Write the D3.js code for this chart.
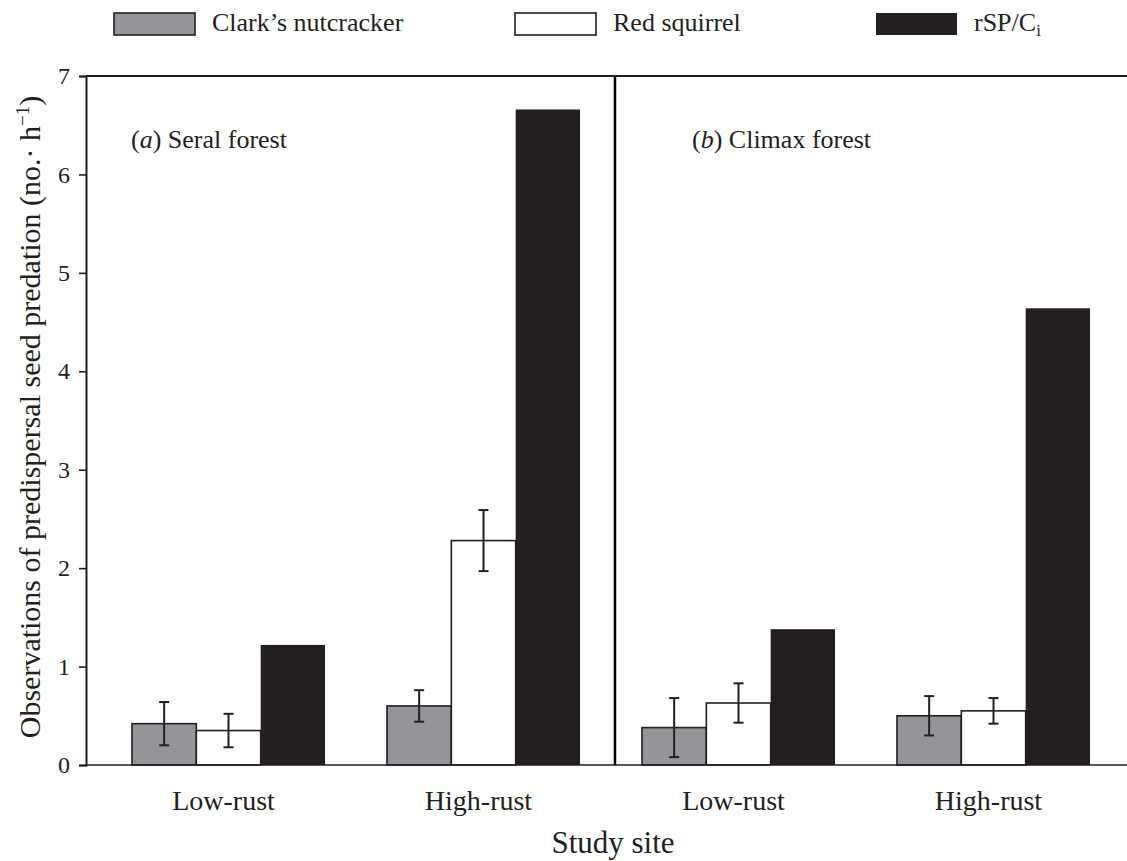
<!DOCTYPE html>
<html>
<head>
<meta charset="utf-8">
<script src="https://cdn.jsdelivr.net/npm/d3@7/dist/d3.min.js"></script>
<style>
  html, body { margin: 0; padding: 0; background: #fff; }
  svg { display: block; }
  text { font-family: "Liberation Serif", "DejaVu Serif", serif; fill: #231f20; }
</style>
</head>
<body>
<svg id="chart" width="1127" height="861"></svg>
<script>
// ---- data ----
const sites = ["Seral Low-rust", "Seral High-rust", "Climax Low-rust", "Climax High-rust"];
const siteLabels = ["Low-rust", "High-rust", "Low-rust", "High-rust"];
const seriesNames = ["Clark\u2019s nutcracker", "Red squirrel", "rSP/Ci"];
const nutcracker = [0.42, 0.60, 0.38, 0.50];
const nutcrackerErr = [0.22, 0.16, 0.30, 0.20];
const squirrel = [0.35, 2.28, 0.63, 0.55];
const squirrelErr = [0.17, 0.31, 0.20, 0.13];
const rspci = [1.22, 6.66, 1.38, 4.64];
const yTicks = [0, 1, 2, 3, 4, 5, 6, 7];
const panelLabels = [["a", " Seral forest"], ["b", " Climax forest"]];

(function () {
// ---- layout ----
const svg = d3.select("#chart");
const ink = "#231f20";
const fills = ["#939598", "#ffffff", "#231f20"];
const pLeft = 86, pTop = 76, pBottom = 765, pRight = 1127;

const x0 = d3.scaleBand().domain(sites).range([101, 1121]).paddingInner(0.243).paddingOuter(0.1215);
const x1 = d3.scaleBand().domain([0, 1, 2]).range([0, x0.bandwidth()]).padding(0);
const y = d3.scaleLinear().domain([0, 7]).range([pBottom, pTop]);

const values = [nutcracker, squirrel, rspci];
const errs = [nutcrackerErr, squirrelErr, null];

const bars = [];
sites.forEach((s, i) => {
  values.forEach((arr, k) => {
    bars.push({site: s, k, v: arr[i], e: errs[k] ? errs[k][i] : null});
  });
});

// bars
svg.append("g").selectAll("rect").data(bars).join("rect")
  .attr("x", d => x0(d.site) + x1(d.k))
  .attr("y", d => y(d.v))
  .attr("width", x1.bandwidth())
  .attr("height", d => y(0) - y(d.v))
  .attr("fill", d => fills[d.k])
  .attr("stroke", d => d.k === 2 ? "none" : ink)
  .attr("stroke-width", 1.6);

// error bars
const eb = svg.append("g").attr("stroke", ink).attr("stroke-width", 2);
bars.filter(d => d.e != null).forEach(d => {
  const cx = x0(d.site) + x1(d.k) + x1.bandwidth() / 2;
  eb.append("line").attr("x1", cx).attr("x2", cx).attr("y1", y(d.v + d.e)).attr("y2", y(d.v - d.e));
  eb.append("line").attr("x1", cx - 5).attr("x2", cx + 5).attr("y1", y(d.v + d.e)).attr("y2", y(d.v + d.e));
  eb.append("line").attr("x1", cx - 5).attr("x2", cx + 5).attr("y1", y(d.v - d.e)).attr("y2", y(d.v - d.e));
});

// frame lines
svg.append("line").attr("x1", pLeft).attr("x2", pRight).attr("y1", pTop).attr("y2", pTop)
  .attr("stroke", ink).attr("stroke-width", 2);
svg.append("line").attr("x1", pLeft).attr("x2", pRight).attr("y1", pBottom).attr("y2", pBottom)
  .attr("stroke", ink).attr("stroke-width", 1.6);
svg.append("line").attr("x1", 615).attr("x2", 615).attr("y1", pTop).attr("y2", pBottom)
  .attr("stroke", "#000").attr("stroke-width", 2.5);

// y axis
const yAxis = svg.append("g").attr("transform", `translate(${pLeft},0)`)
  .call(d3.axisLeft(y).tickValues(yTicks).tickSize(7).tickPadding(9).tickFormat(d3.format("d")));
yAxis.select(".domain").attr("stroke", ink).attr("stroke-width", 2);
yAxis.selectAll(".tick line").attr("stroke", ink).attr("stroke-width", 1.6);
yAxis.selectAll(".tick text").style("font-family", "Liberation Serif").style("font-size", "24px").attr("fill", ink);

// x labels
svg.append("g").selectAll("text").data(sites).join("text")
  .attr("x", d => x0(d) + x0.bandwidth() / 2 - 5)
  .attr("y", 810)
  .attr("text-anchor", "middle")
  .style("font-size", "28px")
  .text((d, i) => siteLabels[i]);

svg.append("text").attr("x", 613).attr("y", 853).attr("text-anchor", "middle")
  .style("font-size", "31px").text("Study site");

// y title
const yt = svg.append("text").attr("transform", "translate(40,417) rotate(-90)")
  .attr("text-anchor", "middle").style("font-size", "30px");
yt.append("tspan").text("Observations of predispersal seed predation (no.\u00b7 h");
yt.append("tspan").attr("dy", -11).style("font-size", "19px").text("\u22121");
yt.append("tspan").attr("dy", 11).text(")");

// panel labels
const panelX = [131, 692];
panelLabels.forEach((p, i) => {
  const t = svg.append("text").attr("x", panelX[i]).attr("y", 148).style("font-size", "26px");
  t.append("tspan").text("(");
  t.append("tspan").style("font-style", "italic").text(p[0]);
  t.append("tspan").text(")" + p[1]);
});

// legend
const legX = [114, 515, 876];
const leg = svg.append("g");
seriesNames.forEach((n, i) => {
  leg.append("rect").attr("x", legX[i]).attr("y", 13).attr("width", 81).attr("height", 22)
    .attr("fill", fills[i]).attr("stroke", i === 2 ? "none" : ink).attr("stroke-width", 1.6);
  const t = leg.append("text").attr("x", legX[i] + 98).attr("y", 31).style("font-size", "26px");
  if (i === 2) {
    t.append("tspan").text("rSP/C");
    t.append("tspan").attr("dy", 5).style("font-size", "17px").text("i");
  } else {
    t.text(n);
  }
});
})();
</script>
</body>
</html>
